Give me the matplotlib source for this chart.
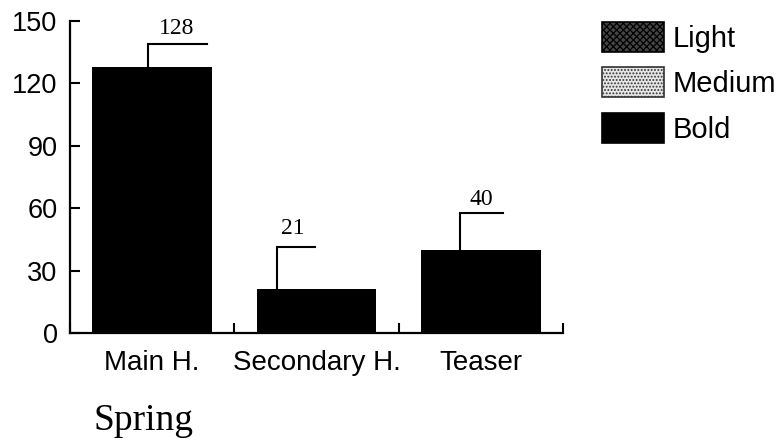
import matplotlib
matplotlib.use("Agg")
import matplotlib.pyplot as plt
from matplotlib.patches import Patch
import numpy as np

categories = ["Main H.", "Secondary H.", "Teaser"]
bold_values = [128, 21, 40]
legend_labels = ["Light", "Medium", "Bold"]
y_ticks = [0, 30, 60, 90, 120, 150]
title_text = "Spring"

# annotation bracket geometry (style, in data units relative to bar center)
bracket_x = [-0.024, -0.242, -0.127]
bracket_end = [0.333, -0.012, 0.133]
bracket_top = [139.0, 41.5, 57.5]
label_dx = [0.15, -0.145, 0.0]
label_y = [146.5, 50, 64]

sans = ["Liberation Sans", "DejaVu Sans"]
serif = ["Liberation Serif", "DejaVu Serif"]

fig = plt.figure(figsize=(7.8, 4.44), dpi=100)
ax = fig.add_axes([70/780, 1-333/444, (563-70)/780, (333-21)/444])

x = np.arange(len(categories))
ax.bar(x, bold_values, width=0.727, color="black", edgecolor="black", linewidth=0)

for i, v in enumerate(bold_values):
    bx = x[i] + bracket_x[i]
    ax.plot([bx, bx, x[i] + bracket_end[i]], [v, bracket_top[i], bracket_top[i]],
            color="black", lw=1.5, solid_joinstyle="miter", clip_on=False)
    ax.text(x[i] + label_dx[i], label_y[i], str(v), family=serif, fontsize=17,
            ha="center", va="center")

ax.set_xlim(-0.5, 2.5)
ax.set_ylim(0, 150)
ax.set_yticks(y_ticks)
ax.set_yticklabels([str(t) for t in y_ticks], family=sans, fontsize=19.5)
ax.set_xticks(x)
ax.set_xticklabels(categories, family=sans, fontsize=20)
ax.set_xticks([-0.5, 0.5, 1.5, 2.5], minor=True)
ax.tick_params(axis="x", which="major", length=0, pad=12)
ax.tick_params(axis="x", which="minor", direction="in", length=7, width=1.5)
ax.tick_params(axis="y", direction="in", length=7, width=1.5, pad=9)
for s in ["top", "right"]:
    ax.spines[s].set_visible(False)
for s in ["left", "bottom"]:
    ax.spines[s].set_linewidth(1.6)

plt.rcParams["hatch.linewidth"] = 0.9
handles = [
    Patch(facecolor="#444444", edgecolor="black", hatch="xxxxx", lw=1.2),
    Patch(facecolor="#e6e6e6", edgecolor="#333333", hatch=".....", lw=1.2),
    Patch(facecolor="black", edgecolor="black", lw=1.2),
]
fig.legend(handles, legend_labels, loc="upper left",
           bbox_to_anchor=(602/780, 1-22/444), frameon=False,
           prop={"family": sans, "size": 21},
           handlelength=2.12, handleheight=1.2, handletextpad=0.3,
           labelspacing=0.5, borderpad=0, borderaxespad=0)

fig.text(93/780, 1-430/444, title_text, family=serif, fontsize=27,
         ha="left", va="baseline")

fig.savefig("out.png", dpi=100)
